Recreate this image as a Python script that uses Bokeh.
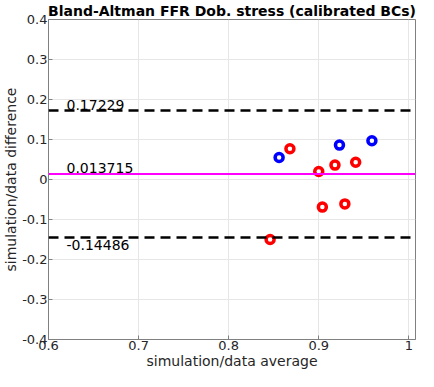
from bokeh.plotting import figure
from bokeh.models import Range1d, FixedTicker, Label, Span
from bokeh.embed import file_html
from bokeh.resources import INLINE

# data
blue_x = [0.856, 0.923, 0.959]
blue_y = [0.055, 0.086, 0.097]
red_x = [0.868, 0.900, 0.918, 0.941, 0.904, 0.929, 0.846]
red_y = [0.077, 0.020, 0.036, 0.043, -0.069, -0.061, -0.150]
mean_diff = 0.013715
upper_loa = 0.17229
lower_loa = -0.14486
x_ticks = [0.6, 0.7, 0.8, 0.9, 1.0]
x_tick_labels = ["0.6", "0.7", "0.8", "0.9", "1"]
y_ticks = [-0.4, -0.3, -0.2, -0.1, 0.0, 0.1, 0.2, 0.3, 0.4]
y_tick_labels = ["-0.4", "-0.3", "-0.2", "-0.1", "0", "0.1", "0.2", "0.3", "0.4"]

FONT = "DejaVu Sans"
TXT = "#262626"
AX = "#808080"

p = figure(width=418, height=371, output_backend="svg", toolbar_location=None,
           x_range=Range1d(0.6, 1.0074), y_range=Range1d(-0.4, 0.4),
           min_border_left=2, min_border_right=3, min_border_top=0, min_border_bottom=0)

p.title.text = "Bland-Altman FFR Dob. stress (calibrated BCs)"
p.title.text_font = FONT
p.title.text_font_size = "14px"
p.title.text_font_style = "bold"
p.title.text_color = "black"
p.title.align = "center"
p.title.standoff = 1

p.outline_line_color = AX
p.outline_line_width = 1

for ax, ticks, labels in ((p.xaxis[0], x_ticks, x_tick_labels), (p.yaxis[0], y_ticks, y_tick_labels)):
    ax.ticker = FixedTicker(ticks=ticks)
    ax.major_label_overrides = {t: l for t, l in zip(ticks, labels)}
    ax.major_label_text_font = FONT
    ax.major_label_text_font_size = "13px"
    ax.major_label_text_color = TXT
    ax.axis_label_text_font = FONT
    ax.axis_label_text_font_size = "14px"
    ax.axis_label_text_font_style = "normal"
    ax.axis_label_text_color = TXT
    ax.axis_line_color = AX
    ax.major_tick_line_color = AX
    ax.major_tick_in = 4
    ax.major_tick_out = 0
    ax.minor_tick_line_color = None
    ax.major_label_standoff = 1
    ax.axis_label_standoff = 0

p.xaxis.axis_label = "simulation/data average"
p.yaxis.axis_label = "simulation/data difference"

p.xgrid.ticker = FixedTicker(ticks=x_ticks)
p.ygrid.ticker = FixedTicker(ticks=y_ticks)
p.grid.grid_line_color = "#e6e6e6"
p.grid.grid_line_width = 1

p.add_layout(Span(location=upper_loa, dimension="width", line_color="black", line_width=2.5, line_dash="10 6"))
p.add_layout(Span(location=lower_loa, dimension="width", line_color="black", line_width=2.5, line_dash="10 6"))
p.add_layout(Span(location=mean_diff, dimension="width", line_color="#ff00ff", line_width=2))

p.add_layout(Label(x=0.62, y=upper_loa, text="%.5g" % upper_loa, text_font=FONT, text_font_size="14px",
                   text_color="black", text_baseline="bottom", y_offset=1))
p.add_layout(Label(x=0.62, y=mean_diff, text="%.5g" % mean_diff, text_font=FONT, text_font_size="14px",
                   text_color="black", text_baseline="bottom", y_offset=1))
p.add_layout(Label(x=0.62, y=lower_loa, text="%.5g" % lower_loa, text_font=FONT, text_font_size="14px",
                   text_color="black", text_baseline="top", y_offset=-3))

p.scatter(blue_x, blue_y, marker="circle", size=8, fill_color="white", line_color="#0000ff", line_width=3.5)
p.scatter(red_x, red_y, marker="circle", size=8, fill_color="white", line_color="#ff0000", line_width=3.5)

open("out.html", "w").write(file_html(p, INLINE))
